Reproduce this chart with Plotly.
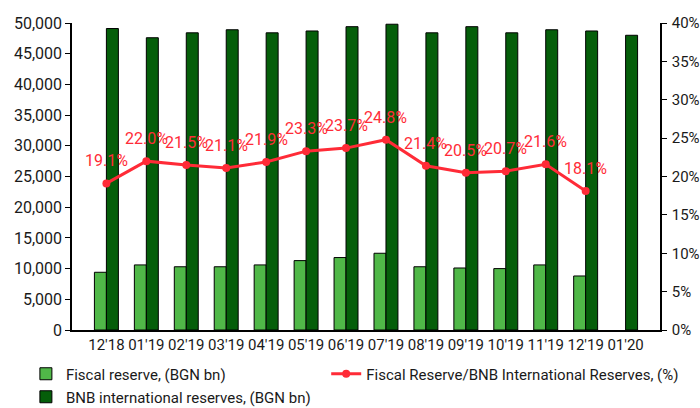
import plotly.graph_objects as go

# Monthly categories
months = ["12'18", "01'19", "02'19", "03'19", "04'19", "05'19", "06'19",
          "07'19", "08'19", "09'19", "10'19", "11'19", "12'19", "01'20"]

# Fiscal reserve, BGN bn (shown in millions on the axis)
fiscal_reserve = [9400, 10600, 10300, 10300, 10600, 11300, 11800,
                  12500, 10300, 10100, 10000, 10600, 8800, None]

# BNB international reserves
bnb_reserves = [49100, 47600, 48400, 48900, 48400, 48700, 49400,
                49800, 48400, 49400, 48400, 48900, 48700, 48000]

# Fiscal reserve / BNB international reserves, %
ratio_pct = [19.1, 22.0, 21.5, 21.1, 21.9, 23.3, 23.7,
             24.8, 21.4, 20.5, 20.7, 21.6, 18.1, None]

LIGHT_GREEN = "#50B848"
DARK_GREEN = "#055E0A"
RED = "#FF2B37"
FONT = "Roboto"
TEXT = "#1a1a1a"

fig = go.Figure()

fig.add_trace(go.Bar(
    x=months, y=fiscal_reserve, name="Fiscal reserve, (BGN bn)",
    marker=dict(color=LIGHT_GREEN, line=dict(color="black", width=1)),
    legend="legend",
))

fig.add_trace(go.Scatter(
    x=months, y=ratio_pct, name="Fiscal Reserve/BNB International Reserves, (%)",
    yaxis="y2", mode="lines+markers",
    line=dict(color=RED, width=3), marker=dict(color=RED, size=8),
    legend="legend3",
))

fig.add_trace(go.Bar(
    x=months, y=bnb_reserves, name="BNB international reserves, (BGN bn)",
    marker=dict(color=DARK_GREEN, line=dict(color="black", width=1)),
    legend="legend2",
))

# Value labels above the ratio line
for m, v in zip(months, ratio_pct):
    if v is None:
        continue
    fig.add_annotation(
        x=m, y=v, xref="x", yref="y2", text=f"{v:.1f}%",
        showarrow=False, yanchor="bottom", xanchor="center", yshift=11,
        font=dict(color=RED, size=16, family=FONT),
    )

legend_common = dict(
    orientation="h", xref="container", yref="container",
    xanchor="left", yanchor="middle",
    font=dict(size=15, color=TEXT), bgcolor="rgba(0,0,0,0)",
)

fig.update_layout(
    width=700, height=408,
    margin=dict(l=72, r=40, t=23, b=78, autoexpand=False),
    paper_bgcolor="white", plot_bgcolor="white",
    font=dict(family=FONT, size=16, color=TEXT),
    barmode="group", bargap=0.4, bargroupgap=0,
    xaxis=dict(
        type="category", showline=True, linecolor="black", linewidth=1.5,
        ticks="", showgrid=False, tickfont=dict(size=15), tickangle=0,
    ),
    yaxis=dict(
        range=[0, 50000], dtick=5000, tickformat=",",
        showline=True, linecolor="black", linewidth=1.5,
        ticks="outside", ticklen=5, tickcolor="black",
        showgrid=False, zeroline=False, tickfont=dict(size=16),
    ),
    yaxis2=dict(
        range=[0, 40], dtick=5, ticksuffix="%", overlaying="y", side="right",
        showline=True, linecolor="black", linewidth=1.5,
        ticks="outside", ticklen=5, tickcolor="black", ticklabelstandoff=2,
        showgrid=False, zeroline=False, tickfont=dict(size=15),
    ),
    legend=dict(legend_common, x=0.037, y=1 - 374 / 408),
    legend2=dict(legend_common, x=0.037, y=1 - 397 / 408),
    legend3=dict(legend_common, x=0.466, y=1 - 374 / 408),
    showlegend=True,
)

fig.write_html("out.html")
